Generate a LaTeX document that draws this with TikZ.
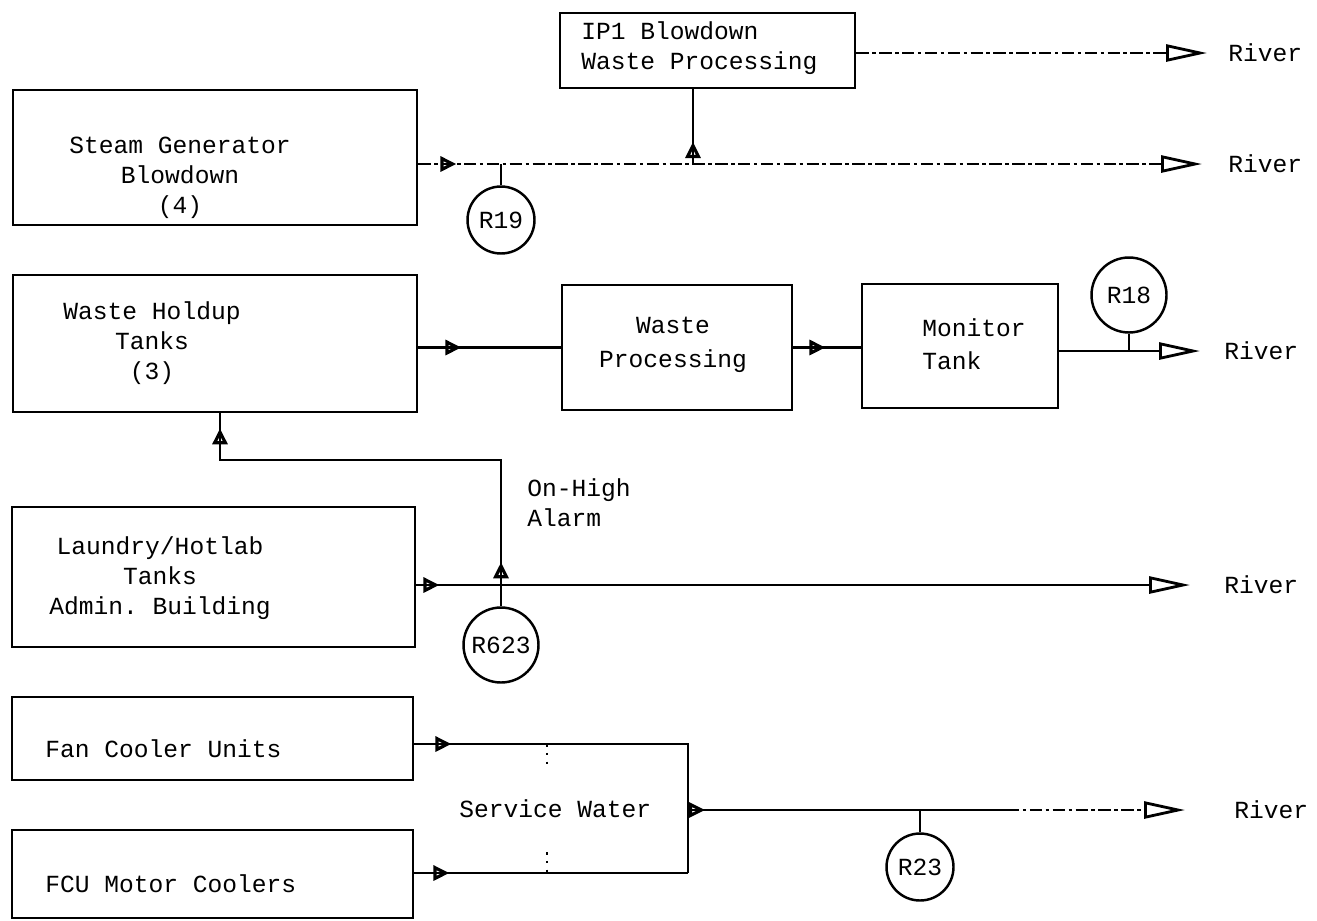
\documentclass[tikz,border=0pt]{standalone}
\usepackage{fontspec}
\setmonofont{Liberation Mono}
\usetikzlibrary{arrows.meta,decorations.markings}
\newcommand{\typed}{\ttfamily\fontsize{14}{17}\selectfont}

\begin{document}
\begin{tikzpicture}[
  x=0.02cm,y=-0.02cm,
  line/.style={line width=1.4pt},
  faint/.style={line width=1pt,dash pattern=on 7pt off 2pt on 2pt off 2pt},
  dots/.style={line width=1.5pt,dash pattern=on 1.5pt off 3.5pt},
  bigtip/.style={-{Triangle[open,length=0.82cm,width=0.34cm,line width=1.6pt]}},
  midtip/.style={postaction={decorate,decoration={markings,
    mark=at position #1 with {\arrow{Triangle[open,length=0.32cm,width=0.3cm,line width=1.8pt]}}}}},
  box/.style={draw,line width=1.6pt,inner sep=0pt},
  boxtext/.style={font=\typed,inner sep=0pt},
  river/.style={font=\typed,inner sep=0pt,anchor=west},
  monitor/.style={draw,circle,line width=1.4pt,inner sep=0pt,minimum size=#1,font=\typed}
]
\useasboundingbox (0,0) rectangle (1317,920);

\node[box,minimum width=5.9cm,minimum height=1.5cm] (ipone) at (707.5,50.5) {};
\node[box,minimum width=8.08cm,minimum height=2.7cm] (sgb) at (215,157.5) {};
\node[box,minimum width=8.08cm,minimum height=2.74cm] (holdup) at (215,343.5) {};
\node[box,minimum width=4.6cm,minimum height=2.5cm] (wproc) at (677,347.5) {};
\node[box,minimum width=3.92cm,minimum height=2.48cm] (montank) at (960,346) {};
\node[box,minimum width=8.06cm,minimum height=2.8cm] (laundry) at (213.5,577) {};
\node[box,minimum width=8.02cm,minimum height=1.66cm] (fan) at (212.5,738.5) {};
\node[box,minimum width=8.02cm,minimum height=1.76cm] (fcm) at (212.5,874) {};

\node[boxtext,align=left,anchor=west] (iponetext) at (581,48) {IP1 Blowdown\\Waste Processing};
\node[boxtext,align=center] (sgbtext) at (180,178) {Steam Generator\\Blowdown\\(4)};
\node[boxtext,align=center] (holduptext) at (152,343) {Waste Holdup\\Tanks\\(3)};
\node[boxtext,align=center] (wproctext) at (673,345) {Waste\\[2pt]Processing};
\node[boxtext,align=left,anchor=west] (montanktext) at (922,344) {Monitor\\[2pt]Tank};
\node[boxtext,align=center] (laundrytext) at (160,578) {Laundry/Hotlab\\Tanks\\Admin. Building};
\node[boxtext,anchor=base west] (fantext) at (45,757) {Fan Cooler Units};
\node[boxtext,anchor=base west] (fcmtext) at (45,892) {FCU Motor Coolers};
\node[boxtext,anchor=base west] (swlabel) at (459,817) {Service Water};
\node[boxtext,align=left,anchor=west] (alarm) at (527,503) {On-High\\Alarm};

\node[river] (river1) at (1228,53) {River};
\node[river] (river2) at (1228,164) {River};
\node[river] (river3) at (1224,351) {River};
\node[river] (river4) at (1224,585) {River};
\node[river] (river5) at (1234,810) {River};

\node[monitor=1.34cm] (r19) at (501,220) {R19};
\node[monitor=1.5cm] (r18) at (1129,295) {R18};
\node[monitor=1.5cm] (r623) at (501,645) {R623};
\node[monitor=1.34cm] (r23) at (920,867) {R23};

\coordinate (sgtap) at (693,164);
\coordinate (alarmcorner) at (220,460);
\coordinate (swtop) at (688,744);
\coordinate (swbot) at (688,873);
\coordinate (swout) at (688,810);
\coordinate (swfade) at (1007,810);

\draw[faint,bigtip,shorten >=0.42cm] (ipone.east |- river1.west) -- (river1.west);
\draw[faint,midtip=0.76cm,bigtip,shorten >=0.52cm] (sgb.east |- river2.west) -- (river2.west);
\draw[line] (r19) -- (r19 |- river2.west);
\draw[line,midtip=0.44cm] (sgtap) -- (sgtap |- ipone.south);
\draw[line,midtip=0.86cm] (holdup.east |- wproc.west) -- (wproc.west);
\draw[line,midtip=0.64cm] (wproc.east) -- (wproc.east -| montank.west);
\draw[line,bigtip,shorten >=0.48cm] (montank.east |- river3.west) -- (river3.west);
\draw[line] (r18) -- (r18 |- river3.west);
\draw[line,midtip=0.46cm,bigtip,shorten >=0.68cm] (laundry.east |- river4.west) -- (river4.west);
\draw[line,midtip=0.88cm,midtip=-0.3cm] (r623.north) |- (alarmcorner) -- (alarmcorner |- holdup.south);
\draw[line,midtip=0.74cm] (fan.east |- swtop) -- (swtop) -- (swbot);
\draw[line,midtip=0.7cm] (fcm.east |- swbot) -- (swbot);
\draw[line,midtip=0.34cm] (swout) -- (swfade);
\draw[faint,bigtip,shorten >=0.98cm] (swfade) -- (river5.west);
\draw[line] (r23) -- (r23 |- swout);
\draw[dots] (547,744) -- (547,764);
\draw[dots] (547,852) -- (547,873);
\end{tikzpicture}
\end{document}
